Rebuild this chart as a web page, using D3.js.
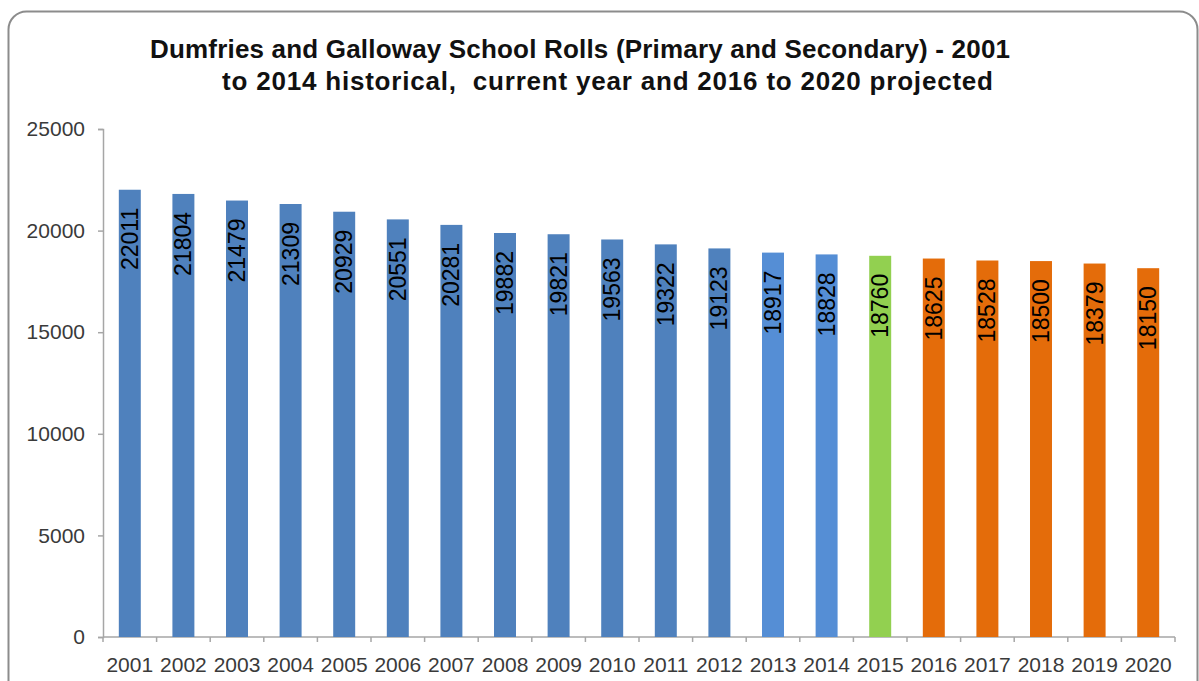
<!DOCTYPE html>
<html>
<head>
<meta charset="utf-8">
<script src="https://cdn.jsdelivr.net/npm/d3@7"></script>
<style>
  body { margin: 0; background: #fff; }
  svg { display: block; font-family: Arial, "Liberation Sans", sans-serif; }
</style>
</head>
<body>
<div id="chart"></div>
<script>
(function() {
'use strict';

const years = ['2001','2002','2003','2004','2005','2006','2007','2008','2009','2010',
  '2011','2012','2013','2014','2015','2016','2017','2018','2019','2020'];
const rolls = [22011, 21804, 21479, 21309, 20929, 20551, 20281, 19882, 19821, 19563,
  19322, 19123, 18917, 18828, 18760, 18625, 18528, 18500, 18379, 18150];
const periods = ['hist','hist','hist','hist','hist','hist','hist','hist','hist','hist',
  'hist','hist','recent','recent','current','proj','proj','proj','proj','proj'];
const yTicks = [0, 5000, 10000, 15000, 20000, 25000];
const titleLines = [
  'Dumfries and Galloway School Rolls (Primary and Secondary) - 2001',
  'to 2014 historical,  current year and 2016 to 2020 projected'
];

const width = 1199;
const height = 681;
const margin = {left: 103, right: 24, top: 129, bottom: 44};

const color = d3.scaleOrdinal()
  .domain(['hist', 'recent', 'current', 'proj'])
  .range(['#4f81bd', '#558ed5', '#92d050', '#e46c0a']);

const svg = d3.select('#chart')
  .append('svg')
  .attr('width', width)
  .attr('height', height);

// chart frame
svg.append('rect')
  .attr('x', 8.5)
  .attr('y', 11.5)
  .attr('width', 1189)
  .attr('height', 720)
  .attr('rx', 18)
  .attr('fill', 'none')
  .attr('stroke', '#8c8c8c')
  .attr('stroke-width', 2);

// title, two lines stretched to the reference widths
const titleX = [150, 222];
const titleW = [860, 771];
svg.append('g')
  .selectAll('text')
  .data(titleLines)
  .enter()
  .append('text')
  .attr('x', (d, i) => titleX[i])
  .attr('y', (d, i) => 58 + i * 32)
  .attr('textLength', (d, i) => titleW[i])
  .attr('lengthAdjust', 'spacing')
  .style('white-space', 'pre')
  .attr('font-size', 26)
  .attr('font-weight', 'bold')
  .attr('fill', '#111')
  .text(d => d);

const x = d3.scaleBand()
  .domain(years)
  .range([margin.left, width - margin.right])
  .paddingInner(0.59)
  .paddingOuter(0.295);

const y = d3.scaleLinear()
  .domain([0, 25000])
  .range([height - margin.bottom, margin.top]);

// y axis
const yAxis = svg.append('g')
  .attr('transform', 'translate(' + margin.left + ',0)')
  .call(d3.axisLeft(y).tickValues(yTicks).tickSize(5).tickPadding(13).tickFormat(d3.format('d')));

// x axis with ticks between categories
const xAxis = svg.append('g')
  .attr('transform', 'translate(0,' + y(0) + ')')
  .call(d3.axisBottom(x).tickSize(0).tickPadding(20));

const step = x.step();
const bounds = d3.range(years.length + 1).map(i => margin.left + i * step);
xAxis.selectAll('.boundary')
  .data(bounds)
  .enter()
  .append('line')
  .attr('class', 'boundary')
  .attr('x1', d => d)
  .attr('x2', d => d)
  .attr('y1', 0)
  .attr('y2', 5);

[yAxis, xAxis].forEach(function(g) {
  g.select('.domain').attr('stroke', '#a6a6a6').attr('stroke-width', 1.5);
  g.selectAll('line').attr('stroke', '#a6a6a6').attr('stroke-width', 1.5);
  g.selectAll('text').attr('fill', '#3a3a3a').attr('font-size', 21)
    .attr('font-family', 'Arial, "Liberation Sans", sans-serif');
});
xAxis.select('.domain').attr('d', 'M' + margin.left + ',0H' + (width - margin.right));

svg.append('g')
  .selectAll('rect')
  .data(rolls)
  .enter()
  .append('rect')
  .attr('x', (d, i) => x(years[i]))
  .attr('y', d => y(d))
  .attr('width', x.bandwidth())
  .attr('height', d => y(0) - y(d))
  .attr('fill', (d, i) => color(periods[i]));

svg.append('g')
  .selectAll('text')
  .data(rolls)
  .enter()
  .append('text')
  .attr('transform', (d, i) =>
    'translate(' + (x(years[i]) + x.bandwidth() / 2) + ',' + (y(d) + 18) + ') rotate(-90)')
  .attr('text-anchor', 'end')
  .attr('dy', '0.35em')
  .attr('font-size', 23)
  .attr('fill', '#000')
  .text(d => d);

})();
</script>
</body>
</html>
